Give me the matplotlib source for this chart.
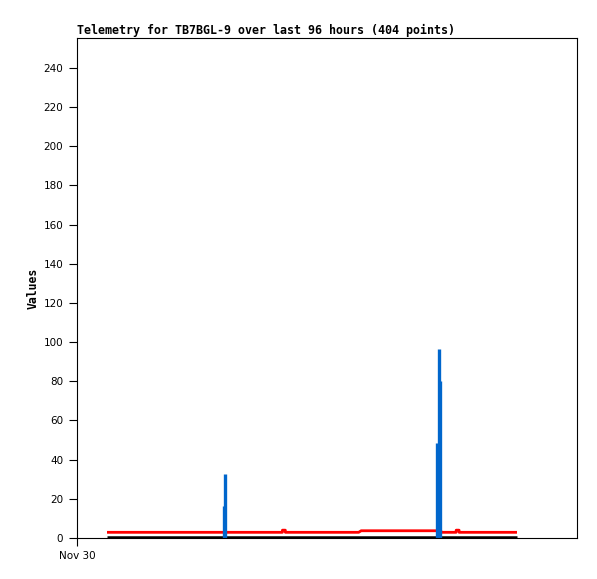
import matplotlib
matplotlib.use("Agg")
import matplotlib.pyplot as plt

# Data (hours since Nov 30 00:00)
title = "Telemetry for TB7BGL-9 over last 96 hours (404 points)"
x_tick_labels = ["Nov 30"]
x_ticks = [0]
y_ticks = list(range(0, 241, 20))

black_t = [7.2, 105.6]
black_v = [0.5, 0.5]

red_t = [7.2, 49.3, 49.3, 50.0, 50.0, 67.6, 68.2, 87.2, 87.6, 91.0, 91.0, 91.7, 91.7, 105.6]
red_v = [2.9, 2.9, 4.0, 4.0, 2.9, 2.9, 3.7, 3.7, 2.9, 2.9, 4.0, 4.0, 2.9, 2.9]

blue_t = [35.2, 35.5, 86.5, 86.8, 87.1]
blue_v = [16.5, 32.5, 48.5, 96.5, 80.0]

fig = plt.figure(figsize=(5.97, 5.79), dpi=100)
ax = fig.add_axes([77/597, 41/579, 500/597, 500/579])

ax.plot(black_t, black_v, color="black", lw=1.8, solid_capstyle="butt")
ax.plot(red_t, red_v, color="#ff0000", lw=2.0, solid_capstyle="butt")
ax.vlines(blue_t, 0, blue_v, color="#0066cc", lw=2.4)

ax.set_xlim(0, 120)
ax.set_ylim(0, 255.3)
ax.set_yticks(y_ticks)
ax.set_yticklabels([str(v) for v in y_ticks], fontsize=7.5, family="DejaVu Sans")
ax.set_xticks(x_ticks)
ax.set_xticklabels(x_tick_labels, fontsize=7.5, family="DejaVu Sans")
ax.tick_params(axis="both", direction="out", length=6, width=0.8, colors="black")
ax.tick_params(axis="y", pad=4)
for s in ax.spines.values():
    s.set_linewidth(0.8)

ax.set_ylabel("Values", fontsize=8.3, fontweight="bold", family="DejaVu Sans Mono", labelpad=3)
ax.set_title(title, loc="left", fontsize=8.4, fontweight="bold", family="DejaVu Sans Mono", pad=3)

fig.savefig("out.png", dpi=100)
